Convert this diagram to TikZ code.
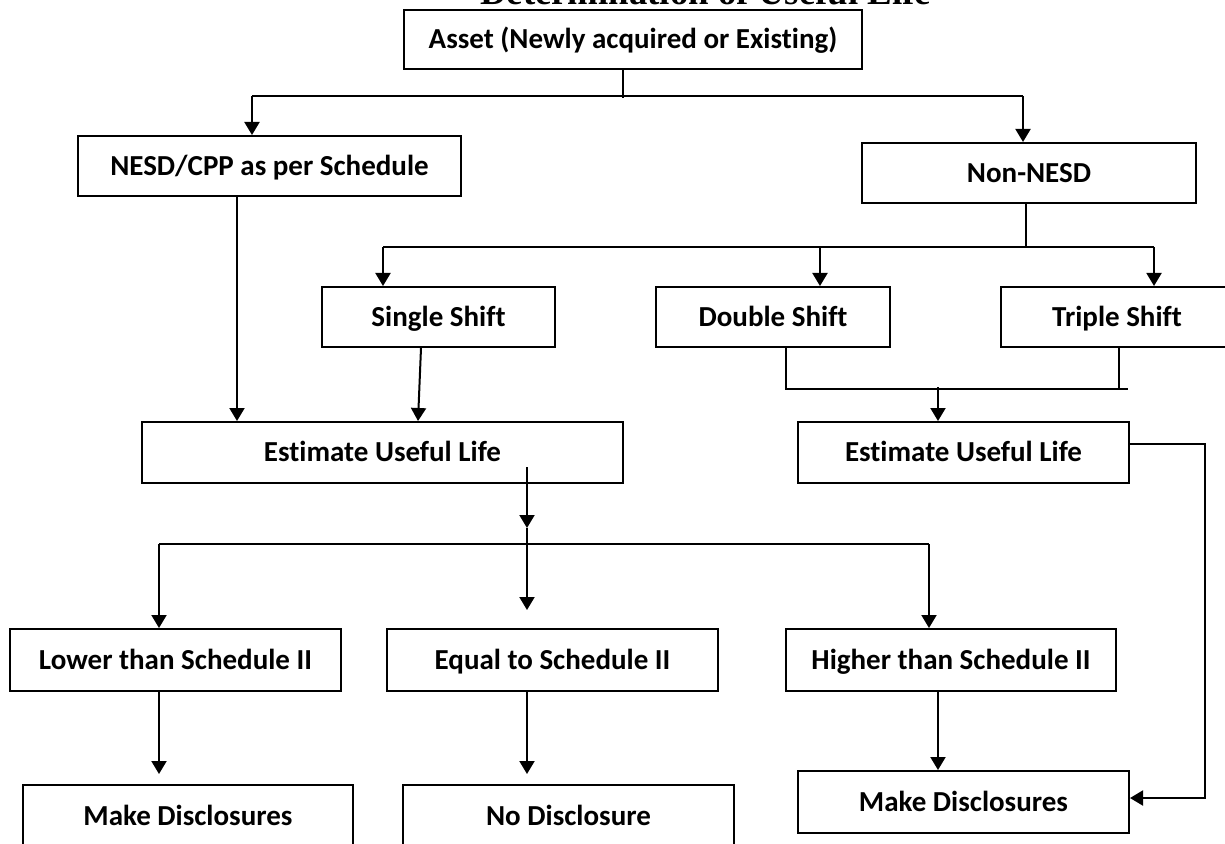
\documentclass[tikz,border=0pt]{standalone}
\usepackage{fontspec}
\setmainfont{Carlito}[Ligatures={NoCommon}]
\newfontfamily\titlefont{Liberation Serif}
\usetikzlibrary{arrows.meta}
\begin{document}
\begin{tikzpicture}[x=0.5pt,y=-0.5pt,
  box/.style={draw, line width=1pt, inner sep=0pt, text height=12.3pt, text depth=3pt, font=\fontsize{14.5pt}{17pt}\selectfont\bfseries},
  conn/.style={line width=1pt},
  arr/.style={line width=1pt,-{Triangle[length=6.5pt,width=7.5pt]}}]
\useasboundingbox (0,0) rectangle (1225,844);
% title
\node[anchor=base, inner sep=0pt, font=\titlefont\fontsize{18.4pt}{20pt}\selectfont\bfseries] (title) at (705.5,5) {Determination of Useful Life};
% boxes
\node[box, minimum width=229pt, minimum height=29.5pt] (asset) at (633,39.5) {Asset (Newly acquired or Existing)};
\node[box, minimum width=191.5pt, minimum height=30pt] (nesd) at (269.5,166) {NESD/CPP as per Schedule};
\node[box, minimum width=167pt, minimum height=30pt] (non) at (1029,173) {Non-NESD};
\node[box, minimum width=116.5pt, minimum height=30pt] (single) at (438.5,317) {Single Shift};
\node[box, minimum width=117pt, minimum height=30pt] (double) at (773,317) {Double Shift};
\node[box, minimum width=116pt, minimum height=30pt] (triple) at (1117,317) {Triple Shift};
\node[box, minimum width=240.5pt, minimum height=30.5pt] (est1) at (382.5,452.5) {Estimate Useful Life};
\node[box, minimum width=165.5pt, minimum height=30.5pt] (est2) at (963.5,452.5) {Estimate Useful Life};
\node[box, minimum width=165.5pt, minimum height=31pt] (lower) at (175.5,660) {Lower than Schedule II};
\node[box, minimum width=165.5pt, minimum height=31pt] (equal) at (552.5,660) {Equal to Schedule II};
\node[box, minimum width=165pt, minimum height=31pt] (higher) at (951,660) {Higher than Schedule II};
\node[box, minimum width=165pt, minimum height=31pt] (md1) at (188,816) {Make Disclosures};
\node[box, minimum width=165.5pt, minimum height=31pt] (nd) at (568.5,816) {No Disclosure};
\node[box, minimum width=165.5pt, minimum height=31pt] (md2) at (963.5,802) {Make Disclosures};
% helper coordinates
\coordinate (aS) at (623,98);
\coordinate (hL) at (252,96);
\coordinate (hR) at (1023,96);
\coordinate (nS) at (1026,247);
\coordinate (sL) at (383,247);
\coordinate (sM) at (820,247);
\coordinate (sR) at (1154,247);
\coordinate (xa) at (237,0);
\coordinate (xb1) at (421,0);
\coordinate (xb2) at (418,0);
\coordinate (dL) at (786,389);
\coordinate (dR) at (1128,389);
\coordinate (xt) at (1119,0);
\coordinate (dA) at (938,387);
\coordinate (eT) at (527,467);
\coordinate (eM) at (527,528);
\coordinate (eB) at (527,610);
\coordinate (qL) at (159,544);
\coordinate (qR) at (929,544);
\coordinate (lEnd) at (159,774);
\coordinate (nEnd) at (527,774);
\coordinate (xh) at (938,0);
\coordinate (rT) at (1205,444);
\coordinate (rB) at (1205,798);
% connectors
\draw[conn] (asset.south -| aS) -- (aS);
\draw[conn] (hL) -- (hR);
\draw[arr] (hL) -- (hL |- nesd.north);
\draw[arr] (hR) -- (hR |- non.north);
\draw[conn] (non.south -| nS) -- (nS);
\draw[conn] (sL) -- (sR);
\draw[arr] (sL) -- (sL |- single.north);
\draw[arr] (sM) -- (sM |- double.north);
\draw[arr] (sR) -- (sR |- triple.north);
\draw[arr] (nesd.south -| xa) -- (est1.north -| xa);
\draw[arr] (single.south -| xb1) -- (est1.north -| xb2);
\draw[conn] (double.south -| dL) -- (dL) -- (dR);
\draw[conn] (triple.south -| xt) -- (xt |- dR);
\draw[arr] (dA) -- (est2.north -| dA);
\draw[arr] (eT) -- (eM);
\draw[arr] (eM) -- (eB);
\draw[conn] (qL) -- (qR);
\draw[arr] (qL) -- (lower.north -| qL);
\draw[arr] (qR) -- (higher.north -| qR);
\draw[arr] (lower.south -| lEnd) -- (lEnd);
\draw[arr] (equal.south -| nEnd) -- (nEnd);
\draw[arr] (higher.south -| xh) -- (md2.north -| xh);
\draw[arr] (est2.east |- rT) -- (rT) -- (rB) -- (md2.east |- rB);
\end{tikzpicture}
\end{document}
